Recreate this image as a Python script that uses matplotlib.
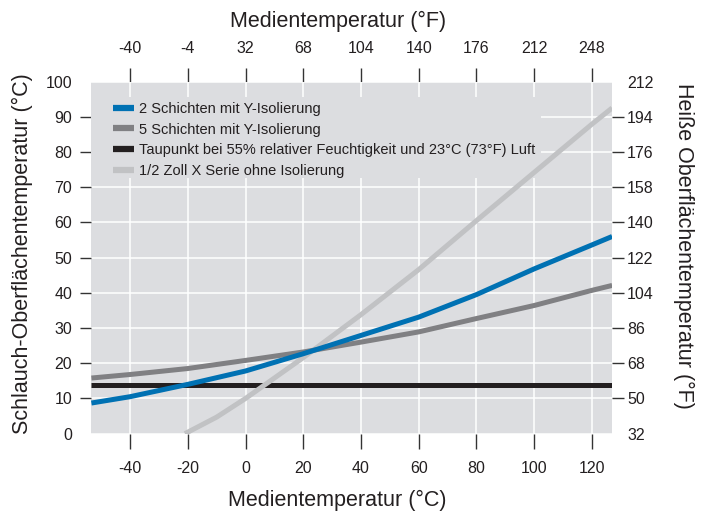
import numpy as np
import matplotlib
matplotlib.use("Agg")
import matplotlib.pyplot as plt
from matplotlib.patches import Rectangle

plt.rcParams['font.family'] = ['Liberation Sans', 'DejaVu Sans']

# Medientemperatur (°C) and surface temperatures (°C)
temp_c = [-53.4, -40, -20, 0, 20, 40, 60, 80, 100, 120, 127]
zwei_schichten = [8.7, 10.5, 14.0, 17.8, 22.7, 27.9, 33.1, 39.5, 46.8, 53.6, 56.0]
fuenf_schichten = [15.8, 16.8, 18.5, 20.8, 23.2, 26.0, 28.9, 32.7, 36.4, 40.7, 42.1]
taupunkt = [13.7] * len(temp_c)

temp_c_x = [-21, -10, 0, 20, 40, 60, 80, 100, 120, 127]
x_serie = [0, 4.7, 10.0, 21.6, 33.8, 46.6, 60.5, 74.2, 87.9, 92.5]

labels = ['2 Schichten mit Y-Isolierung',
          '5 Schichten mit Y-Isolierung',
          'Taupunkt bei 55% relativer Feuchtigkeit und 23°C (73°F) Luft',
          '1/2 Zoll X Serie ohne Isolierung']

xticks_c = [-40, -20, 0, 20, 40, 60, 80, 100, 120]
xticks_f = [-40, -4, 32, 68, 104, 140, 176, 212, 248]
yticks_c = [0, 10, 20, 30, 40, 50, 60, 70, 80, 90, 100]
yticks_f = [32, 50, 68, 86, 104, 122, 140, 158, 176, 194, 212]

bg = '#dcdde0'
blau = '#0071b3'
grau = '#808083'
schwarz = '#231f20'
hellgrau = '#c1c2c4'
tickcol = '#333333'

def c2f(c):
    return np.asarray(c) * 1.8 + 32

def f2c(f):
    return (np.asarray(f) - 32) / 1.8

fig = plt.figure(figsize=(7.03, 5.12), dpi=100)
ax = fig.add_axes([0.130, 0.153, 0.7407, 0.6877])
ax.set_facecolor(bg)
for s in ax.spines.values():
    s.set_visible(False)

ax.set_xlim(-53.4, 127)
ax.set_ylim(0, 100)
ax.set_axisbelow(True)
ax.grid(True, color='white', lw=1.1)

# box behind the legend hides the grid
ax.add_patch(Rectangle((0, 0.727), 0.864, 0.228, transform=ax.transAxes,
                       facecolor=bg, edgecolor='none', zorder=1))

lw = 3.6
ax.plot(temp_c, zwei_schichten, color=blau, lw=lw, label=labels[0], zorder=4, solid_capstyle='butt')
ax.plot(temp_c, fuenf_schichten, color=grau, lw=lw, label=labels[1], zorder=3, solid_capstyle='butt')
ax.plot(temp_c, taupunkt, color=schwarz, lw=lw, label=labels[2], zorder=2, solid_capstyle='butt')
ax.plot(temp_c_x, x_serie, color=hellgrau, lw=lw, label=labels[3], zorder=2, solid_capstyle='butt')

leg = ax.legend(loc='upper left', bbox_to_anchor=(0.0417, 0.942), frameon=False,
                fontsize=10.5, borderpad=0, borderaxespad=0, handlelength=1.45,
                handletextpad=0.33, labelspacing=0.45)
for h in leg.get_lines():
    h.set_linewidth(4.5)
for t in leg.get_texts():
    t.set_color(schwarz)

# bottom / left axis
ax.set_xticks(xticks_c)
ax.set_xticklabels([str(v) for v in xticks_c])
ax.set_yticks(yticks_c)
ax.tick_params(axis='x', length=10.8, width=1, color=tickcol, pad=9, labelsize=11.5, labelcolor=schwarz)
ax.tick_params(axis='y', length=7.9, width=1, color=tickcol, pad=5.8, labelsize=11.5, labelcolor=schwarz)
ax.yaxis.get_major_ticks()[0].tick1line.set_visible(False)
ax.yaxis.get_major_ticks()[-1].tick1line.set_visible(False)

# top axis in °F
top = ax.secondary_xaxis('top', functions=(c2f, f2c))
top.set_xticks(xticks_f)
top.set_xticklabels([str(v) for v in xticks_f])
top.tick_params(length=10, width=1, color=tickcol, pad=8.6, labelsize=11.5, labelcolor=schwarz)
for s in top.spines.values():
    s.set_visible(False)

# right axis in °F
right = ax.secondary_yaxis('right', functions=(c2f, f2c))
right.set_yticks(yticks_f)
right.set_yticklabels([str(v) for v in yticks_f])
right.tick_params(length=8.6, width=1, color=tickcol, pad=2.2, labelsize=11.5, labelcolor=schwarz)
for s in right.spines.values():
    s.set_visible(False)
right.yaxis.get_major_ticks()[0].tick2line.set_visible(False)
right.yaxis.get_major_ticks()[-1].tick2line.set_visible(False)

# axis labels
lab = dict(fontsize=15.5, color=schwarz)
ax.set_xlabel('Medientemperatur (°C)', **lab)
ax.xaxis.set_label_coords(337 / 703, 1 - 500 / 512, transform=fig.transFigure)
ax.xaxis.label.set_va('center')
top.set_xlabel('Medientemperatur (°F)', **lab)
top.xaxis.set_label_coords(338 / 703, 1 - 21 / 512, transform=fig.transFigure)
top.xaxis.label.set_va('center')
ax.set_ylabel('Schlauch-Oberflächentemperatur (°C)', **lab)
ax.yaxis.set_label_coords(22 / 703, 1 - 254 / 512, transform=fig.transFigure)
ax.yaxis.label.set_ha('center')
ax.yaxis.label.set_va('center')
right.set_ylabel('Heiße Oberflächentemperatur (°F)', rotation=-90, **lab)
right.yaxis.set_label_coords(684 / 703, 1 - 246 / 512, transform=fig.transFigure)
right.yaxis.label.set_ha('center')
right.yaxis.label.set_va('center')

fig.savefig('out.png', dpi=100, facecolor='white')
